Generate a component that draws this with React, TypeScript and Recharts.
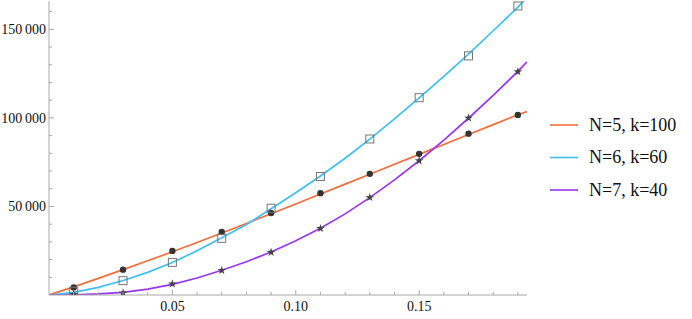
import React from "react";
import { ComposedChart, Line, Scatter, XAxis, YAxis, Legend } from "recharts";

// ---- data ----
const lineX = [0, 0.01, 0.02, 0.03, 0.04, 0.05, 0.06, 0.07, 0.08, 0.09, 0.1, 0.11, 0.12, 0.13, 0.14, 0.15, 0.16, 0.17, 0.18, 0.19, 0.1937];
const orangeLine = [0, 4600, 9400, 14300, 19300, 24400, 29600, 35000, 40400, 45900, 51400, 57000, 62600, 68200, 73800, 79400, 85000, 90600, 96200, 101800, 103600];
const blueLine = [0, 1500, 4300, 8200, 12800, 18300, 25000, 32300, 39800, 48700, 57700, 67200, 77200, 88000, 99400, 111300, 123400, 136000, 149200, 162500, 168000];
const purpleLine = [0, 150, 600, 1500, 3300, 6000, 9600, 14000, 18800, 24300, 30600, 37700, 45800, 55000, 65000, 75800, 87400, 99800, 112700, 126300, 131700];

const markerX = [0.01, 0.03, 0.05, 0.07, 0.09, 0.11, 0.13, 0.15, 0.17, 0.19];
const orangeMarkers = [4300, 14300, 24900, 35600, 46300, 57500, 68400, 79700, 91100, 101700];
const blueMarkers = [2100, 8100, 18400, 32000, 49000, 66900, 88100, 111400, 135000, 163200];
const purpleMarkers = [400, 1200, 6300, 13900, 24100, 37600, 55100, 75800, 99900, 126100];

const xTicks = [0.01, 0.02, 0.03, 0.04, 0.05, 0.06, 0.07, 0.08, 0.09, 0.1, 0.11, 0.12, 0.13, 0.14, 0.15, 0.16, 0.17, 0.18, 0.19];
const yTicks = [10000, 20000, 30000, 40000, 50000, 60000, 70000, 80000, 90000, 100000, 110000, 120000, 130000, 140000, 150000, 160000];

const seriesNames = ["N=5, k=100", "N=6, k=60", "N=7, k=40"];
const colors = ["#f46d3a", "#3ebff2", "#9a35f2"];

const toPts = (xs: number[], ys: number[]) => xs.map((x, i) => ({ x, y: ys[i] }));

const FONT = "'Liberation Serif', serif";
const AXIS = "#a8a8a8";

const fmtY = (v: number) => {
  const s = String(v);
  return s.length > 3 ? s.slice(0, s.length - 3) + "\u2009" + s.slice(s.length - 3) : s;
};

const YTick = (props: any) => {
  const { x, y, payload } = props;
  const v = payload.value;
  const major = v % 50000 === 0;
  return (
    <g>
      <line x1={x} x2={x + (major ? 5 : 3)} y1={y} y2={y} stroke={AXIS} strokeWidth={1} />
      {major && (
        <text x={x - 3} y={y} dy="0.33em" textAnchor="end" fontFamily={FONT} fontSize={14} fill="#111">
          {fmtY(v)}
        </text>
      )}
    </g>
  );
};

const XTick = (props: any) => {
  const { x, y, payload } = props;
  const v = payload.value;
  const major = Math.round(v * 100) % 5 === 0;
  return (
    <g>
      <line x1={x} x2={x} y1={y} y2={y - (major ? 5 : 3)} stroke={AXIS} strokeWidth={1} />
      {major && (
        <text x={x} y={y + 16} textAnchor="middle" fontFamily={FONT} fontSize={14} fill="#111">
          {v.toFixed(2)}
        </text>
      )}
    </g>
  );
};

const Dot = (props: any) => <circle cx={props.cx} cy={props.cy} r={3.2} fill="#333" />;
const Sq = (props: any) => (
  <rect x={props.cx - 4} y={props.cy - 4} width={8} height={8} fill="none" stroke="#777" strokeWidth={1} />
);
const Star = (props: any) => {
  const { cx, cy } = props;
  const pts: string[] = [];
  for (let i = 0; i < 10; i++) {
    const r = i % 2 === 0 ? 4.5 : 1.8;
    const a = -Math.PI / 2 + (i * Math.PI) / 5;
    pts.push(`${cx + r * Math.cos(a)},${cy + r * Math.sin(a)}`);
  }
  return <polygon points={pts.join(" ")} fill="#444" />;
};

const LegendContent = () => (
  <svg width={150} height={100}>
    {seriesNames.map((n, i) => {
      const cy = 20 + i * 32.5;
      return (
        <g key={n}>
          <line x1={10} x2={38} y1={cy} y2={cy} stroke={colors[i]} strokeWidth={1.6} />
          <text x={49} y={cy} dy="0.33em" fontFamily={FONT} fontSize={18} fill="#111">
            {n}
          </text>
        </g>
      );
    })}
  </svg>
);

export default function App() {
  return (
    <div style={{ position: "absolute", left: 0, top: 0 }}>
      <ComposedChart width={692} height={319} margin={{ top: 1, right: 165, bottom: 0, left: 0 }}>
        <XAxis
          dataKey="x"
          type="number"
          domain={[0, 0.1937]}
          allowDataOverflow
          ticks={xTicks}
          interval={0}
          height={24}
          tickSize={0}
          tickMargin={0}
          tickLine={false}
          axisLine={{ stroke: AXIS, strokeWidth: 1 }}
          tick={<XTick />}
        />
        <YAxis
          dataKey="y"
          type="number"
          domain={[0, 166000]}
          allowDataOverflow
          ticks={yTicks}
          interval={0}
          width={49}
          tickSize={0}
          tickMargin={0}
          tickLine={false}
          axisLine={{ stroke: AXIS, strokeWidth: 1 }}
          tick={<YTick />}
        />
        <Legend
          layout="vertical"
          align="center"
          verticalAlign="middle"
          content={<LegendContent />}
          wrapperStyle={{ left: 540, top: 105, width: 150, height: 100 }}
        />
        <Line data={toPts(lineX, orangeLine)} dataKey="y" stroke={colors[0]} strokeWidth={1.7} dot={false} isAnimationActive={false} name={seriesNames[0]} />
        <Line data={toPts(lineX, blueLine)} dataKey="y" stroke={colors[1]} strokeWidth={1.7} dot={false} isAnimationActive={false} name={seriesNames[1]} />
        <Line data={toPts(lineX, purpleLine)} dataKey="y" stroke={colors[2]} strokeWidth={1.7} dot={false} isAnimationActive={false} name={seriesNames[2]} />
        <Scatter data={toPts(markerX, orangeMarkers)} dataKey="y" shape={<Dot />} isAnimationActive={false} legendType="none" />
        <Scatter data={toPts(markerX, blueMarkers)} dataKey="y" shape={<Sq />} isAnimationActive={false} legendType="none" />
        <Scatter data={toPts(markerX, purpleMarkers)} dataKey="y" shape={<Star />} isAnimationActive={false} legendType="none" />
      </ComposedChart>
    </div>
  );
}
